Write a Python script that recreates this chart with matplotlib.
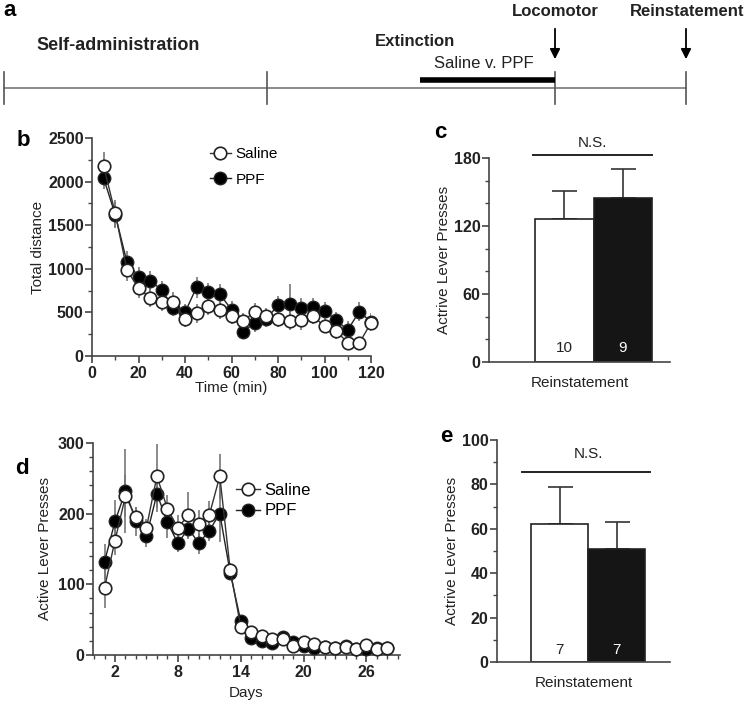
import matplotlib
matplotlib.use("Agg")
import matplotlib.pyplot as plt
import numpy as np
from matplotlib.ticker import MultipleLocator

plt.rcParams['font.family'] = ['Liberation Sans', 'DejaVu Sans']

# ---------------- data ----------------
# panel b: locomotor total distance
time_min = [5, 10, 15, 20, 25, 30, 35, 40, 45, 50, 55, 60,
            65, 70, 75, 80, 85, 90, 95, 100, 105, 110, 115, 120]
saline_dist = [2180, 1635, 990, 775, 670, 615, 620, 425, 490, 575, 525, 455,
               405, 505, 455, 425, 400, 410, 460, 340, 290, 150, 150, 380]
saline_dist_err = [160, 150, 130, 110, 110, 100, 110, 90, 110, 110, 100, 90,
                   90, 100, 90, 90, 100, 110, 90, 80, 90, 70, 70, 90]
ppf_dist = [2040, 1620, 1080, 910, 860, 760, 550, 500, 790, 730, 710, 530,
            280, 380, 430, 580, 600, 550, 560, 520, 410, 300, 510, 390]
ppf_dist_err = [130, 150, 120, 110, 110, 100, 90, 100, 120, 110, 110, 100,
                80, 100, 100, 110, 230, 120, 110, 100, 100, 100, 110, 100]

# panel c: reinstatement after locomotor
groups = ['Saline', 'PPF']
c_means = [126, 145]
c_err = [25, 25]
c_n = ['10', '9']

# panel d: self-administration / extinction
days = list(range(1, 29))
saline_lp = [95, 162, 225, 195, 180, 253, 207, 180, 198, 185, 198, 253, 120, 40,
             33, 27, 22, 22, 13, 18, 15, 12, 10, 12, 8, 14, 8, 10]
saline_lp_err = [28, 20, 30, 15, 12, 45, 20, 18, 32, 20, 20, 32, 10, 6,
                 5, 4, 3, 3, 3, 3, 3, 2, 2, 2, 2, 3, 2, 2]
ppf_lp = [132, 189, 232, 189, 168, 228, 188, 158, 179, 158, 176, 200, 116, 48,
          24, 20, 17, 26, 18, 13, 10, 11, 10, 13, 8, 9, 10, 10]
ppf_lp_err = [25, 30, 60, 20, 15, 25, 22, 12, 15, 15, 15, 40, 10, 8,
              4, 3, 3, 4, 3, 3, 2, 2, 2, 3, 2, 2, 2, 2]

# panel e: reinstatement
e_means = [62, 51]
e_err = [17, 12]
e_n = ['7', '7']

# panel a: timeline schematic
tl_ticks = [4, 267, 555, 686]
tl_bar = [420, 555]
tl_arrows = [555, 686]
tl_arrow_labels = ['Locomotor', 'Reinstatement']

# ---------------- figure ----------------
W, H = 748, 704
fig = plt.figure(figsize=(W / 100, H / 100), dpi=100)

def axrect(l, r, b, t):
    return [l / W, 1 - b / H, (r - l) / W, (b - t) / H]

TXT = '#222222'
SP = '#444444'
TICKFS = 11.5
LABFS = 11

def style(ax):
    for s in ['top', 'right']:
        ax.spines[s].set_visible(False)
    for s in ['left', 'bottom']:
        ax.spines[s].set_color(SP)
        ax.spines[s].set_linewidth(1.2)
    ax.tick_params(which='both', direction='out', colors=SP, labelcolor=TXT)
    ax.tick_params(which='major', length=5, width=1.2, labelsize=TICKFS, pad=2.5)
    ax.tick_params(axis='y', which='major', pad=1.0)
    ax.tick_params(which='minor', length=3, width=1.0)
    for lab in ax.get_xticklabels() + ax.get_yticklabels():
        lab.set_fontweight('bold')

# ---- panel a ----
axa = fig.add_axes([0, 1 - 110 / H, 1, 110 / H])
axa.set_xlim(0, W)
axa.set_ylim(110, 0)
axa.axis('off')
axa.plot([tl_ticks[0], tl_ticks[-1]], [88, 88], color='#777777', lw=1.2)
for x in tl_ticks:
    axa.plot([x, x], [72, 104], color='#555555', lw=1.2)
axa.plot(tl_bar, [80, 80], color='black', lw=4, solid_capstyle='butt')
axa.text(484, 63, 'Saline v. PPF', ha='center', va='center', fontsize=12, color=TXT)
axa.text(375, 42, 'Extinction', ha='left', va='center', fontsize=12, fontweight='bold', color=TXT)
axa.text(36, 45, 'Self-administration', ha='left', va='center', fontsize=13, fontweight='bold', color=TXT)
for x, lab in zip(tl_arrows, tl_arrow_labels):
    axa.text(x + (1 if lab == 'Reinstatement' else 0), 11, lab, ha='center', va='center',
             fontsize=12, fontweight='bold', color=TXT)
    axa.annotate('', xy=(x, 62), xytext=(x, 26),
                 arrowprops=dict(arrowstyle='-|>,head_width=0.3,head_length=0.6',
                                 color='black', lw=1.3))
axa.text(3, 11, 'a', ha='left', va='center', fontsize=16, fontweight='bold')

MS = 9
LW = 1.0

# ---- panel b ----
axb = fig.add_axes(axrect(92, 371, 356, 138))
axb.errorbar(time_min, saline_dist, yerr=saline_dist_err, fmt='none', ecolor='#777777',
             elinewidth=1.2, capsize=0, zorder=2)
axb.errorbar(time_min, ppf_dist, yerr=ppf_dist_err, fmt='none', ecolor='#777777',
             elinewidth=1.2, capsize=0, zorder=2)
axb.plot(time_min, ppf_dist, '-o', color='#222222', mfc='black', mec='#222222', ms=MS,
         lw=LW, label='PPF', zorder=3, clip_on=False)
axb.plot(time_min, saline_dist, '-o', color='#333333', mfc='white', mec='#222222', ms=MS,
         mew=1.2, lw=LW, label='Saline', zorder=4, clip_on=False)
axb.set_xlim(0, 120)
axb.set_ylim(0, 2500)
axb.xaxis.set_major_locator(MultipleLocator(20))
axb.xaxis.set_minor_locator(MultipleLocator(10))
axb.yaxis.set_major_locator(MultipleLocator(500))
axb.yaxis.set_minor_locator(MultipleLocator(250))
style(axb)
axb.set_xlabel('Time (min)', fontsize=LABFS, color=TXT, labelpad=0)
axb.set_ylabel('Total distance', fontsize=LABFS, color=TXT, labelpad=2)
h, l = axb.get_legend_handles_labels()
axb.legend(h[::-1], l[::-1], loc='upper left', bbox_to_anchor=(0.40, 0.985), frameon=False,
           fontsize=11, handlelength=1.4, handletextpad=0.3, labelspacing=0.75,
           borderaxespad=0)
fig.text(17 / W, 1 - 141 / H, 'b', fontsize=16, fontweight='bold', va='center')

# ---- panel c ----
axc = fig.add_axes(axrect(489, 670, 362, 158))
xpos = np.arange(len(groups))
axc.bar(xpos, c_means, width=1.0, color=['white', '#151515'], edgecolor='#222222', lw=1.2,
        zorder=2)
for x, m, e in zip(xpos, c_means, c_err):
    axc.errorbar(x, m, yerr=[[0], [e]], fmt='none', ecolor='#333333', elinewidth=1.2,
                 capsize=9, capthick=1.2, zorder=1)
for x, n, col in zip(xpos, c_n, ['#222222', 'white']):
    axc.text(x, 12, n, ha='center', va='center', fontsize=11, color=col)
axc.set_xlim(-1.29, 1.81)
axc.set_ylim(0, 180)
axc.set_xticks([])
axc.yaxis.set_major_locator(MultipleLocator(60))
axc.yaxis.set_minor_locator(MultipleLocator(20))
style(axc)
axc.plot([-0.54, 1.5], [182.5, 182.5], color='#222222', lw=1.4, clip_on=False)
axc.text(0.48, 193, 'N.S.', ha='center', va='center', fontsize=11, color=TXT)
axc.set_xlabel('Reinstatement', fontsize=LABFS, color=TXT, labelpad=10)
axc.set_ylabel('Actrive Lever Presses', fontsize=LABFS, color=TXT, labelpad=2)
fig.text(434 / W, 1 - 133 / H, 'c', fontsize=16, fontweight='bold', va='center')

# ---- panel d ----
axd = fig.add_axes(axrect(93, 400, 655, 443))
axd.errorbar(days, saline_lp, yerr=saline_lp_err, fmt='none', ecolor='#777777',
             elinewidth=1.2, capsize=0, zorder=2)
axd.errorbar(days, ppf_lp, yerr=ppf_lp_err, fmt='none', ecolor='#777777',
             elinewidth=1.2, capsize=0, zorder=2)
axd.plot(days, ppf_lp, '-o', color='#222222', mfc='black', mec='#222222', ms=MS,
         lw=LW, label='PPF', zorder=3, clip_on=False)
axd.plot(days, saline_lp, '-o', color='#333333', mfc='white', mec='#222222', ms=MS,
         mew=1.2, lw=LW, label='Saline', zorder=4, clip_on=False)
axd.set_xlim(-0.1, 29.2)
axd.set_ylim(0, 300)
axd.set_xticks([2, 8, 14, 20, 26])
axd.xaxis.set_minor_locator(MultipleLocator(1))
axd.yaxis.set_major_locator(MultipleLocator(100))
axd.yaxis.set_minor_locator(MultipleLocator(20))
style(axd)
axd.set_xlabel('Days', fontsize=LABFS, color=TXT, labelpad=4)
axd.set_ylabel('Active Lever Presses', fontsize=LABFS, color=TXT, labelpad=4)
h, l = axd.get_legend_handles_labels()
axd.legend(h[::-1], l[::-1], loc='upper left', bbox_to_anchor=(0.445, 0.845), frameon=False,
           fontsize=12, handlelength=1.4, handletextpad=0.3, labelspacing=0.35,
           borderaxespad=0)
fig.text(15 / W, 1 - 468 / H, 'd', fontsize=16, fontweight='bold', va='center')

# ---- panel e ----
axe = fig.add_axes(axrect(497, 670, 662, 440))
axe.bar(xpos, e_means, width=1.0, color=['white', '#151515'], edgecolor='#222222', lw=1.2,
        zorder=2)
for x, m, e in zip(xpos, e_means, e_err):
    axe.errorbar(x, m, yerr=[[0], [e]], fmt='none', ecolor='#333333', elinewidth=1.2,
                 capsize=9, capthick=1.2, zorder=1)
for x, n, col in zip(xpos, e_n, ['#222222', 'white']):
    axe.text(x, 5.5, n, ha='center', va='center', fontsize=11, color=col)
axe.set_xlim(-1.1, 1.94)
axe.set_ylim(0, 100)
axe.set_xticks([])
axe.yaxis.set_major_locator(MultipleLocator(20))
axe.yaxis.set_minor_locator(MultipleLocator(10))
style(axe)
axe.plot([-0.66, 1.59], [85.7, 85.7], color='#222222', lw=1.4, clip_on=False)
axe.text(0.5, 93.5, 'N.S.', ha='center', va='center', fontsize=11, color=TXT)
axe.set_xlabel('Reinstatement', fontsize=LABFS, color=TXT, labelpad=10)
axe.set_ylabel('Actrive Lever Presses', fontsize=LABFS, color=TXT, labelpad=2)
fig.text(440 / W, 1 - 437 / H, 'e', fontsize=16, fontweight='bold', va='center')

fig.savefig('out.png', dpi=100)
